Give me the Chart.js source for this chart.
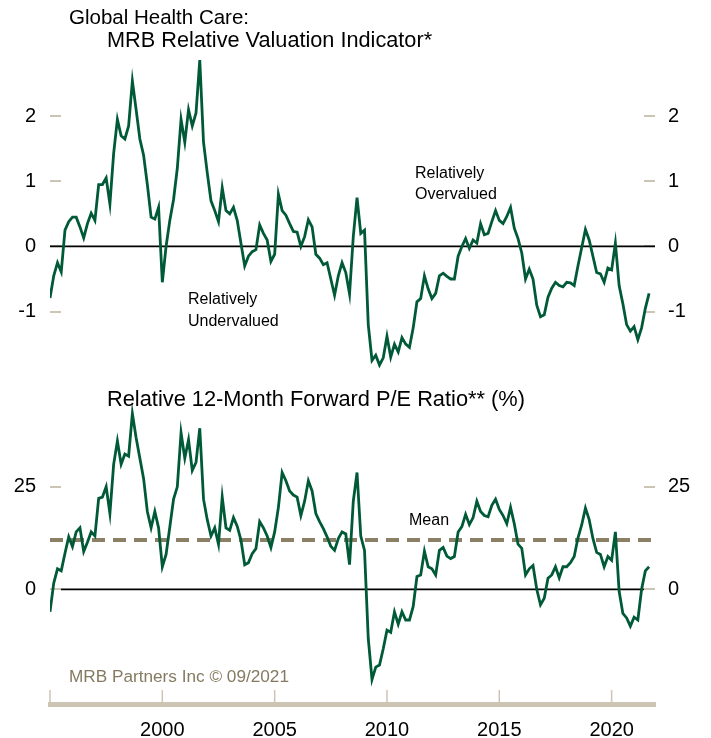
<!DOCTYPE html>
<html><head><meta charset="utf-8">
<script src="https://cdn.jsdelivr.net/npm/chart.js@4.4.0/dist/chart.umd.min.js"></script>
<style>
html,body{margin:0;padding:0;background:#fff;}
#wrap{position:relative;width:711px;height:738px;overflow:hidden;font-family:Arial,"Liberation Sans",sans-serif;}
canvas{position:absolute;left:0;}
.t{position:absolute;white-space:nowrap;color:#000;line-height:1;}
</style></head><body>
<div id="wrap">
<canvas id="cTop" width="711" height="380" style="top:0"></canvas>
<canvas id="cBot" width="711" height="358" style="top:380px"></canvas>
<div class="t" style="left:69px;top:7px;font-size:20.5px">Global Health Care:</div>
<div class="t" style="left:107px;top:29px;font-size:21.7px">MRB Relative Valuation Indicator*</div>
<div class="t" style="left:415px;top:165px;font-size:16px">Relatively</div>
<div class="t" style="left:415px;top:186px;font-size:16px">Overvalued</div>
<div class="t" style="left:188px;top:291px;font-size:16px">Relatively</div>
<div class="t" style="left:188px;top:313px;font-size:16px">Undervalued</div>
<div class="t" style="left:107px;top:388px;font-size:21.8px">Relative 12-Month Forward P/E Ratio** (%)</div>
<div class="t" style="left:409px;top:512px;font-size:16px">Mean</div>
<div class="t" style="left:69px;top:668px;font-size:17.2px;color:#857a61">MRB Partners Inc © 09/2021</div>
</div>
<script>
// ---- data (bi-monthly observations starting Jan 1995) ----
const startYear = 1995;
const stepMonths = 2;
const xMin = 1995;
const xMax = 2021.93;
const xTicks = [1995, 2000, 2005, 2010, 2015, 2020];
const rviTicks = [-1, 0, 1, 2];
const peTicks = [0, 25];
const meanPE = 12;

const rvi = [
 -0.79,-0.45,-0.25,-0.39,0.25,0.38,0.45,0.45,0.30,0.13,
 0.35,0.51,0.40,0.95,0.95,1.05,0.65,1.43,1.95,1.70,
 1.65,1.85,2.54,2.10,1.65,1.40,0.95,0.45,0.42,0.60,
 -0.55,0.00,0.40,0.72,1.20,1.95,1.60,2.10,1.85,2.05,
 2.86,1.60,1.13,0.70,0.55,0.38,0.90,0.55,0.50,0.60,
 0.40,0.05,-0.30,-0.15,-0.08,-0.05,0.33,0.20,0.10,-0.23,
 -0.12,0.80,0.55,0.48,0.35,0.23,0.22,0.00,0.15,0.41,
 0.30,-0.12,-0.18,-0.28,-0.25,-0.50,-0.75,-0.45,-0.25,-0.40,
 -0.73,0.15,0.75,0.20,0.25,-1.20,-1.75,-1.67,-1.82,-1.71,
 -1.38,-1.70,-1.50,-1.62,-1.40,-1.50,-1.55,-1.25,-0.85,-0.80,
 -0.45,-0.65,-0.80,-0.72,-0.45,-0.41,-0.46,-0.50,-0.50,-0.15,
 0.00,0.12,-0.03,0.10,0.05,0.35,0.18,0.20,0.38,0.55,
 0.40,0.35,0.46,0.60,0.28,0.12,-0.10,-0.50,-0.35,-0.50,
 -0.90,-1.08,-1.05,-0.78,-0.64,-0.55,-0.60,-0.62,-0.55,-0.56,
 -0.60,-0.30,-0.02,0.26,0.10,-0.15,-0.40,-0.42,-0.55,-0.33,
 -0.36,0.05,-0.60,-0.88,-1.20,-1.30,-1.23,-1.43,-1.25,-0.95,
 -0.72
];

const fpe = [
 -5.5,1.5,5.0,4.5,8.8,12.8,10.4,14.0,15.0,9.2,
 11.5,14.0,13.0,22.2,22.5,25.0,18.5,30.5,36.2,30.5,
 33.0,32.5,42.9,37.0,32.0,27.0,19.0,15.0,19.0,15.0,
 5.5,8.5,15.2,22.0,25.0,38.2,32.0,36.5,29.0,31.0,
 39.3,22.0,17.0,13.0,15.0,11.0,22.5,15.0,14.4,17.5,
 15.4,12.0,6.0,6.5,8.7,9.9,16.5,15.0,13.0,10.2,
 14.0,20.0,28.5,26.5,24.0,23.0,22.5,18.0,21.5,26.5,
 24.0,18.5,16.5,14.8,12.8,10.5,9.5,12.4,14.0,13.5,
 6.0,21.5,28.5,13.0,9.5,-12.0,-22.0,-19.0,-18.5,-14.5,
 -10.0,-10.5,-5.5,-8.5,-5.5,-7.5,-7.5,-4.2,3.1,3.5,
 9.3,5.5,5.0,3.5,9.5,10.2,8.1,7.5,8.0,14.0,
 15.3,18.3,15.8,17.5,21.5,19.0,18.0,17.7,20.5,22.0,
 19.5,18.0,16.0,20.0,16.0,11.0,10.0,3.5,5.0,5.8,
 0.0,-3.8,-2.2,2.7,3.5,5.5,2.8,5.5,5.5,6.5,
 8.0,12.5,15.7,19.8,17.0,12.4,9.0,8.5,5.5,8.0,
 7.1,14.0,-0.5,-5.9,-7.0,-9.0,-6.8,-7.5,0.0,4.5,
 5.5
];

// ---- styling ----
const GREEN = '#005a38';
const BEIGE = '#cdc5b4';
const TAUPE = '#8b7f66';
Chart.defaults.font.family = 'Arial, "Liberation Sans", sans-serif';
Chart.defaults.color = '#000';

const toPts = arr => arr.map((v, i) => ({ x: startYear + i * stepMonths / 12, y: v }));

const decor = {
  id: 'decor',
  beforeDatasetsDraw(chart, args, opts) {
    const { ctx, chartArea: a, scales } = chart;
    const y = scales.y;
    ctx.save();
    ctx.strokeStyle = BEIGE;
    ctx.lineWidth = 2;
    y.ticks.forEach(t => {
      const p = Math.round(y.getPixelForValue(t.value));
      ctx.beginPath();
      ctx.moveTo(a.left, p); ctx.lineTo(a.left + 11, p);
      ctx.moveTo(a.right - 11, p); ctx.lineTo(a.right, p);
      ctx.stroke();
    });
    if (opts.xTicks) {
      const x = scales.x;
      ctx.lineWidth = 1.5;
      x.ticks.forEach(t => {
        const p = x.getPixelForValue(t.value);
        ctx.beginPath();
        ctx.moveTo(p, a.bottom - 14); ctx.lineTo(p, a.bottom);
        ctx.stroke();
      });
    }
    const z = y.getPixelForValue(0);
    ctx.strokeStyle = '#000';
    ctx.lineWidth = 1.8;
    ctx.beginPath();
    ctx.moveTo(a.left + opts.zeroInset, z);
    ctx.lineTo(a.right - opts.zeroInset, z);
    ctx.stroke();
    ctx.restore();
  }
};

function noPad(s) { s.paddingTop = 0; s.paddingBottom = 0; }

function yAxes(min, max, ticks) {
  const common = {
    min, max,
    grid: { display: false, drawTicks: false },
    border: { display: false },
    afterBuildTicks: s => { s.ticks = ticks.map(v => ({ value: v })); }
  };
  return {
    y: Object.assign({}, common, {
      position: 'left',
      afterFit: s => { s.width = 50; noPad(s); },
      ticks: { padding: 14, color: '#000', font: { size: 20 } }
    }),
    y2: Object.assign({}, common, {
      position: 'right',
      afterFit: s => { s.width = 56; noPad(s); },
      ticks: { padding: 13, color: '#000', font: { size: 20 } }
    })
  };
}

new Chart(document.getElementById('cTop'), {
  type: 'line',
  data: {
    datasets: [{
      data: toPts(rvi), borderColor: GREEN, borderWidth: 2.8,
      pointRadius: 0, tension: 0, yAxisID: 'y'
    }]
  },
  options: {
    responsive: false, animation: false, devicePixelRatio: 1,
    layout: { padding: { top: 51, bottom: 0, left: 0, right: 0 } },
    plugins: { legend: { display: false }, tooltip: { enabled: false }, decor: { zeroInset: 0, xTicks: false } },
    scales: Object.assign({
      x: { type: 'linear', min: xMin, max: xMax, display: false }
    }, yAxes(-2.05, 3.0, rviTicks))
  },
  plugins: [decor]
});

new Chart(document.getElementById('cBot'), {
  type: 'line',
  data: {
    datasets: [{
      data: toPts(fpe), borderColor: GREEN, borderWidth: 2.8,
      pointRadius: 0, tension: 0, yAxisID: 'y'
    }, {
      data: [{ x: xMin, y: meanPE }, { x: xMax, y: meanPE }],
      borderColor: TAUPE, borderWidth: 4, borderDash: [13, 8],
      pointRadius: 0, yAxisID: 'y'
    }]
  },
  options: {
    responsive: false, animation: false, devicePixelRatio: 1,
    layout: { padding: { top: 20, bottom: 0, left: 0, right: 0 } },
    plugins: { legend: { display: false }, tooltip: { enabled: false }, decor: { zeroInset: 11, xTicks: true } },
    scales: Object.assign({
      x: {
        type: 'linear', min: xMin, max: xMax,
        afterFit: s => { s.height = 34; s.paddingLeft = 0; s.paddingRight = 0; },
        afterBuildTicks: s => { s.ticks = xTicks.map(v => ({ value: v })); },
        grid: { display: true, drawOnChartArea: false, drawTicks: false, color: 'rgba(0,0,0,0)' },
        border: { display: true, color: BEIGE, width: 5 },
        ticks: {
          padding: 14, color: '#000', font: { size: 20 }, maxRotation: 0, autoSkip: false,
          callback: v => (v === 1995 ? '' : String(v))
        }
      }
    }, yAxes(-28, 46.2, peTicks))
  },
  plugins: [decor]
});
</script>
</body></html>
